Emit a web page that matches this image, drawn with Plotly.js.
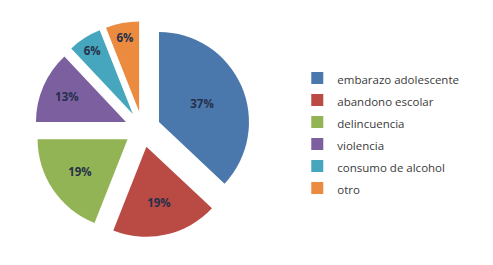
<!DOCTYPE html>
<html><head><meta charset="utf-8">
<script src="https://cdn.plot.ly/plotly-3.0.1.min.js"></script>
<style>html,body{margin:0;padding:0;background:#fff;}#chart{width:493px;height:265px;}</style>
</head><body><div id="chart"></div>
<script>
const categories = ["embarazo adolescente","abandono escolar","delincuencia","violencia","consumo de alcohol","otro"];
const values = [37, 19, 19, 13, 6, 6];
const colors = ["#4a78ad","#b94a44","#92b454","#7b5f9e","#45a6bd","#ea8b40"];
const pulls = [0.2,0.2,0.2,0.2,0.2,0.2];

const legendLabels = categories.map(c => '<span style="font-size:11.5px">' + c + '</span>');

Plotly.newPlot('chart', [{
  type: 'pie',
  labels: legendLabels,
  values: values,
  sort: false,
  direction: 'clockwise',
  rotation: 0,
  pull: pulls,
  marker: {colors: colors, line: {color: 'rgba(0,0,0,0)', width: 0}},
  textinfo: 'percent',
  textposition: 'inside',
  insidetextorientation: 'horizontal',
  textfont: {family: 'Open Sans, sans-serif', size: 11.5, color: '#26304a', weight: 'bold'},
  domain: {x: [0.07, 0.508], y: [0.105, 0.92]},
  hoverinfo: 'none'
}], {
  width: 493, height: 265,
  margin: {l: 0, r: 0, t: 0, b: 0},
  paper_bgcolor: '#fff',
  showlegend: true,
  legend: {x: 0.603, y: 0.766, xanchor: 'left', yanchor: 'top',
    font: {family: 'Open Sans, sans-serif', size: 14.6, color: '#3a3a3a'},
    itemwidth: 30, traceorder: 'normal'}
}, {displayModeBar: false, staticPlot: true});
</script></body></html>
